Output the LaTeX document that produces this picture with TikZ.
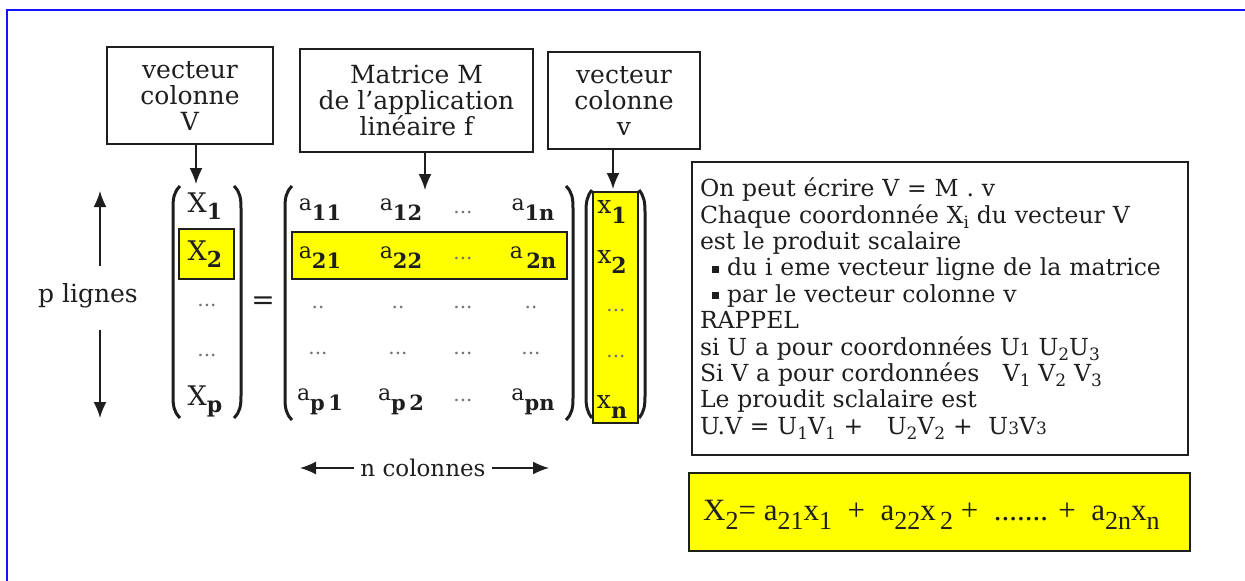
\documentclass[tikz,border=0pt]{standalone}
\usepackage{fontspec}
\setmainfont{DejaVu Serif}
\newfontfamily\eqfont{Liberation Serif}
\usetikzlibrary{arrows.meta}

% font size helper
\newcommand\fs[2]{\fontsize{#1}{#2}\selectfont}
% vector entries: capital letter with a large bold lowered index
\newcommand\Xent[2]{{\fs{27}{27}#1}\raisebox{-7pt}{\fs{22}{22}\bfseries #2}}
% vector entries: small letter with a large bold lowered index
\newcommand\xent[2]{{\fs{25}{25}#1}\raisebox{-10pt}{\fs{22}{22}\bfseries #2}}
% matrix entries: raised a followed by bold indices
\newcommand\aent[1]{\raisebox{10pt}{\fs{22}{22}a}{\fs{21}{21}\bfseries #1}}
% grey dots used for omitted entries
\newcommand\gdots[1]{{\fs{20}{20}\color{black!55}#1}}
% lowered and inline small indices for the text box
\newcommand\lsub[1]{\raisebox{-5pt}{\fs{17}{17}#1}}
\newcommand\isub[1]{{\fs{17}{17}#1}}
\newcommand\esub[1]{\raisebox{-9pt}{\fs{26}{26}#1}}
% square bullet
\newcommand\sqb{\hspace*{12pt}\rule[3pt]{7pt}{7pt}\hspace{8pt}}

\definecolor{hilite}{RGB}{255,255,0}
\definecolor{frameblue}{RGB}{20,20,255}
\definecolor{ink}{RGB}{30,30,30}

\tikzset{
  labelbox/.style={draw=ink, line width=1.8pt, align=center, inner sep=0pt,
    font=\fs{25}{26}, text=ink},
  infobox/.style={draw=ink, line width=1.8pt, align=left, inner sep=0pt,
    inner xsep=8pt, font=\fs{23.5}{26.4}, text=ink},
  hibox/.style={draw=ink, line width=1.5pt, fill=hilite},
  entry/.style={anchor=base, inner sep=0pt, text=ink},
  dotent/.style={anchor=center, inner sep=0pt},
  paren/.style={line width=3pt, ink},
  arr/.style={line width=1.6pt, ink, -{Latex[length=16pt,width=13pt]}},
}

\begin{document}
\begin{tikzpicture}[x=1pt, y=-1pt]
\useasboundingbox (0,0) rectangle (1245,581);

% outer frame (open to the right and bottom)
\draw[frameblue, line width=2pt] (7,581) -- (7,10) -- (1245,10);

% label boxes
\node[labelbox, minimum width=166pt, minimum height=97pt] (boxV) at (190,95.5)
  {vecteur\\colonne\\V};
\node[labelbox, minimum width=233pt, minimum height=103pt] (boxM) at (416.5,100.5)
  {Matrice M\\de l'application\\linéaire f};
\node[labelbox, minimum width=152pt, minimum height=97pt] (boxv) at (624,100.5)
  {vecteur\\colonne\\v};

% highlighted backgrounds
\node[hibox, minimum width=55pt, minimum height=50pt, inner sep=0pt] (hX2) at (206.5,254) {};
\node[hibox, minimum width=275pt, minimum height=47pt, inner sep=0pt] (hrow) at (429.5,255.5) {};
\node[hibox, minimum width=45pt, minimum height=231pt, inner sep=0pt] (hcol) at (615.5,307.5) {};

% parentheses of V
\draw[paren] (180,186) .. controls (174,192) and (173,198) .. (173,208) -- (173,396)
  .. controls (173,406) and (174,412) .. (180,418);
\draw[paren] (234,186) .. controls (240,192) and (241,198) .. (241,208) -- (241,396)
  .. controls (241,406) and (240,412) .. (234,418);
% parentheses of M
\draw[paren] (292,186) .. controls (286,192) and (285,198) .. (285,208) -- (285,398)
  .. controls (285,408) and (286,414) .. (292,420);
\draw[paren] (566,186) .. controls (572,192) and (573,198) .. (573,208) -- (573,398)
  .. controls (573,408) and (572,414) .. (566,420);
% parentheses of v
\draw[paren] (592,190) .. controls (587,196) and (586,202) .. (586,212) -- (586,396)
  .. controls (586,406) and (587,412) .. (592,418);
\draw[paren] (639,190) .. controls (644,196) and (645,202) .. (645,212) -- (645,396)
  .. controls (645,406) and (644,412) .. (639,418);

% entries of V
\node[entry] (V1) at (205,212) {\Xent{X}{1}};
\node[entry] (V2) at (205,260) {\Xent{X}{2}};
\node[dotent] (V3) at (207,305) {\gdots{...}};
\node[dotent] (V4) at (207,355) {\gdots{...}};
\node[entry] (Vp) at (205,405) {\Xent{X}{p}};

% equals sign
\node[inner sep=0pt, font=\fs{28}{28}, text=ink] (eq) at (263,303) {=};

% entries of M
\node[entry] (m11) at (320,220) {\aent{11}};
\node[entry] (m12) at (401,220) {\aent{12}};
\node[dotent] (m13) at (463,212) {\gdots{...}};
\node[entry] (m1n) at (533,220) {\aent{1n}};
\node[entry] (m21) at (320,268) {\aent{21}};
\node[entry] (m22) at (401,268) {\aent{22}};
\node[dotent] (m23) at (463,258) {\gdots{...}};
\node[entry] (m2n) at (533,268) {\aent{\,2n}};
\node[dotent] (m31) at (318,307) {\gdots{..}};
\node[dotent] (m32) at (398,307) {\gdots{..}};
\node[dotent] (m33) at (463,307) {\gdots{...}};
\node[dotent] (m34) at (531,307) {\gdots{..}};
\node[dotent] (m41) at (318,353) {\gdots{...}};
\node[dotent] (m42) at (398,353) {\gdots{...}};
\node[dotent] (m43) at (463,353) {\gdots{...}};
\node[dotent] (m44) at (531,353) {\gdots{...}};
\node[entry] (mp1) at (320,410) {\aent{p\,1}};
\node[entry] (mp2) at (401,410) {\aent{p\,2}};
\node[dotent] (mp3) at (463,400) {\gdots{...}};
\node[entry] (mpn) at (533,410) {\aent{pn}};

% entries of v
\node[entry] (v1) at (612,213) {\xent{x}{1}};
\node[entry] (v2) at (612,263) {\xent{x}{2}};
\node[dotent] (v3) at (616,310) {\gdots{...}};
\node[dotent] (v4) at (616,356) {\gdots{...}};
\node[entry] (vn) at (612,408) {\xent{x}{n}};

% arrows from the label boxes
\coordinate (tipV) at (196,184);
\coordinate (tipM) at (425,190);
\coordinate (tipv) at (613,189);
\draw[arr] (boxV.south -| tipV) -- (tipV);
\draw[arr] (boxM.south -| tipM) -- (tipM);
\draw[arr] (boxv.south -| tipv) -- (tipv);

% row count
\node[inner sep=0pt, font=\fs{25}{25}, text=ink] (plab) at (88,296) {p lignes};
\coordinate (pup0) at (100,266);
\coordinate (pup) at (100,191);
\coordinate (pdn0) at (100,330);
\coordinate (pdn) at (100,418);
\draw[arr] (pup0) -- (pup);
\draw[arr] (pdn0) -- (pdn);

% column count
\node[inner sep=6pt, font=\fs{23}{23}, text=ink] (ncol) at (423,468) {n colonnes};
\coordinate (nl) at (300,468);
\coordinate (nr) at (549,468);
\draw[arr] (ncol.west) -- (nl);
\draw[arr] (ncol.east) -- (nr);

% explanation
\node[infobox, text width=480pt, minimum height=293pt] (info) at (940,308.5) {%
On peut écrire V = M . v\\
Chaque coordonnée X\lsub{i} du vecteur V\\
est le produit scalaire\\
\sqb du i eme vecteur ligne de la matrice\\
\sqb par le vecteur colonne v\\
RAPPEL\\
si U a pour coordonnées U\isub{1} U\lsub{2}U\lsub{3}\\
Si V a pour cordonnées \ \ V\lsub{1} V\lsub{2} V\lsub{3}\\
Le proudit sclalaire est\\
U.V = U\lsub{1}V\lsub{1} + \ \ U\lsub{2}V\lsub{2} + \ U\isub{3}V\isub{3}};

% resulting coordinate
\node[hibox, minimum width=501pt, minimum height=78pt, inner sep=0pt] (res) at (939.5,512) {};
\node[anchor=base west, inner sep=0pt, text=ink, font=\eqfont\fs{31}{31}] (restext) at (703,520)
  {X\esub{2}= a\esub{21}x\esub{1} \ + \ a\esub{22}x\esub{\,2} + \ ....... + \ a\esub{2n}x\esub{n}};
\end{tikzpicture}
\end{document}
